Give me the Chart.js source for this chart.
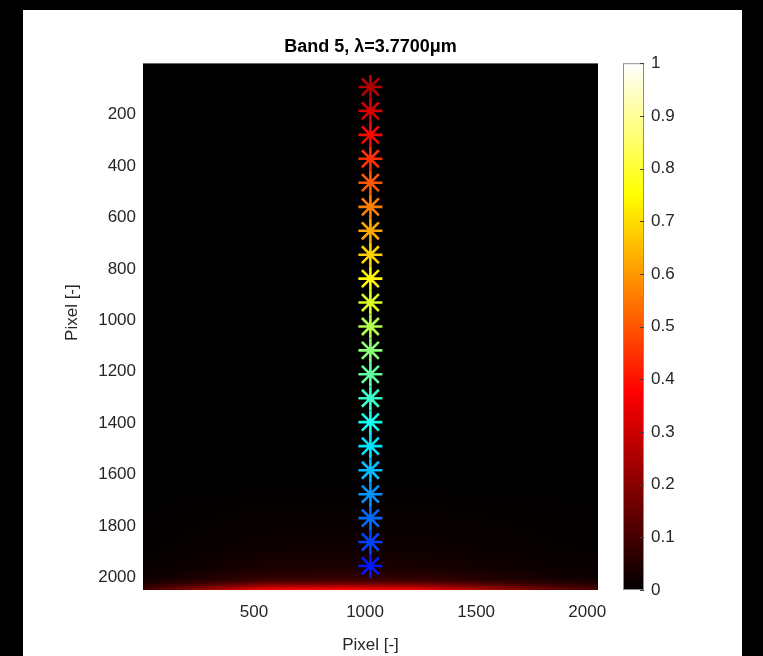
<!DOCTYPE html>
<html><head><meta charset="utf-8">
<script src="https://cdn.jsdelivr.net/npm/chart.js@4.4.1/dist/chart.umd.min.js"></script>
<style>
html,body{margin:0;padding:0;background:#000;overflow:hidden;width:763px;height:656px}
#c{position:absolute;left:0;top:0;width:763px;height:656px}
</style></head>
<body>
<canvas id="c" width="763" height="656"></canvas>
<script>
// ---- data ----
const markerX = [1024,1024,1024,1024,1024,1024,1024,1024,1024,1024,1024,1024,1024,1024,1024,1024,1024,1024,1024,1024,1024];
const markerY = [93,186,279,372,465,559,652,745,838,931,1024,1117,1210,1303,1396,1489,1583,1676,1769,1862,1955];
const xTickValues = [500,1000,1500,2000];
const yTickValues = [200,400,600,800,1000,1200,1400,1600,1800,2000];
const colorbarTicks = [0,0.1,0.2,0.3,0.4,0.5,0.6,0.7,0.8,0.9,1];
// background image intensity near the bottom edge (rows) and its horizontal profile
const glowRowY = [1600,1880,1960,2000,2017,2030,2040,2048.5];
const glowRowLevel = [0,0.02,0.04,0.07,0.12,0.22,0.32,0.4];
const glowColX = [0.5,250,550,900,1250,1550,1850,2048.5];
const glowColGain = [0.25,0.55,0.95,1,0.9,0.65,0.4,0.3];

const FONT = "'Liberation Sans', Arial, Helvetica, sans-serif";
const TXT = '#262626';

function clamp01(v){return Math.max(0,Math.min(1,v));}
function jet(t){
  const c=v=>Math.round(255*clamp01(v));
  return 'rgb('+c(1.5-Math.abs(4*t-3))+','+c(1.5-Math.abs(4*t-2))+','+c(1.5-Math.abs(4*t-1))+')';
}
function hot(v){
  const r=clamp01(v/0.375), g=clamp01((v-0.375)/0.375), b=clamp01((v-0.75)/0.25);
  return 'rgb('+Math.round(r*255)+','+Math.round(g*255)+','+Math.round(b*255)+')';
}
const markerColors = markerY.map((_,i)=>jet(0.95 - i*(0.8/(markerY.length-1))));

const framePlugin = {
  id:'frame',
  afterLayout(chart){
    const t = chart.titleBlock, ca = chart.chartArea;
    if (t && ca){ t.left = ca.left; t.right = ca.right; t.width = ca.right-ca.left; }
    const ys = chart.scales.y;
    if (ys && !ys._titleShifted){
      const orig = ys.drawTitle.bind(ys);
      ys.drawTitle = function(){ const c=this.ctx; c.save(); c.translate(0,-14); orig(); c.restore(); };
      ys._titleShifted = true;
    }
  },
  beforeDraw(chart){
    const ctx = chart.ctx, ca = chart.chartArea;
    ctx.save();
    ctx.fillStyle='#000'; ctx.fillRect(0,0,chart.width,chart.height);
    ctx.fillStyle='#fff'; ctx.fillRect(23,10,742-23,chart.height-10);
    ctx.beginPath(); ctx.rect(ca.left,ca.top,ca.right-ca.left,ca.bottom-ca.top); ctx.clip();
    ctx.fillStyle='#000'; ctx.fillRect(ca.left,ca.top,ca.right-ca.left,ca.bottom-ca.top);
    const xs=chart.scales.x, ys=chart.scales.y;
    const yTop=ys.getPixelForValue(glowRowY[0]), yBot=ys.getPixelForValue(glowRowY[glowRowY.length-1]);
    const g=ctx.createLinearGradient(0,yTop,0,yBot);
    glowRowY.forEach((v,i)=>g.addColorStop(clamp01((ys.getPixelForValue(v)-yTop)/(yBot-yTop)),hot(glowRowLevel[i])));
    ctx.fillStyle=g; ctx.fillRect(ca.left,yTop,ca.right-ca.left,yBot-yTop+1);
    const w=ca.right-ca.left;
    const h=ctx.createLinearGradient(ca.left,0,ca.right,0);
    glowColX.forEach((v,i)=>h.addColorStop(clamp01((xs.getPixelForValue(v)-ca.left)/w),'rgba(0,0,0,'+(1-glowColGain[i])+')'));
    ctx.fillStyle=h; ctx.fillRect(ca.left,yTop,w,yBot-yTop+1);
    ctx.restore();
  },
  afterDraw(chart){
    const ctx=chart.ctx, cb=chart.scales.cb, ca=chart.chartArea;
    const x0=ca.right+25, bw=21;
    const yT=cb.getPixelForValue(1), yB=cb.getPixelForValue(0);
    ctx.save();
    const g=ctx.createLinearGradient(0,yB,0,yT);
    [0,0.375,0.75,1].forEach(v=>g.addColorStop(v,hot(v)));
    ctx.fillStyle=g; ctx.fillRect(x0,yT,bw,yB-yT);
    ctx.strokeStyle='#8c8c8c'; ctx.lineWidth=1;
    ctx.strokeRect(x0+0.5,yT+0.5,bw-1,yB-yT-1);
    ctx.strokeStyle='#404040';
    colorbarTicks.forEach(v=>{
      const y=Math.round(cb.getPixelForValue(v))+0.5;
      ctx.beginPath(); ctx.moveTo(x0+bw-4,y); ctx.lineTo(x0+bw,y); ctx.stroke();
    });
    ctx.restore();
  }
};

new Chart(document.getElementById('c'),{
  type:'scatter',
  data:{datasets:[{
    data: markerX.map((x,i)=>({x:x,y:markerY[i]})),
    showLine:false,
    pointStyle:'star',
    pointRadius:12,
    pointHoverRadius:12,
    pointBorderWidth:2.6,
    pointBorderColor:markerColors,
    pointBackgroundColor:markerColors
  }]},
  options:{
    responsive:false, animation:false, devicePixelRatio:1,
    layout:{padding:{left:23,top:10,right:21,bottom:0}},
    plugins:{
      legend:{display:false}, tooltip:{enabled:false},
      title:{display:true,text:'Band 5, λ=3.7700μm',color:'#000',
        font:{family:FONT,size:18,weight:'bold',lineHeight:1.2},padding:{top:22,bottom:5.4}}
    },
    scales:{
      x:{type:'linear',position:'bottom',min:0.5,max:2048.5,
        grid:{display:false,drawTicks:false},border:{display:false},
        afterBuildTicks:s=>{s.ticks=xTickValues.map(v=>({value:v}));},
        afterFit:s=>{s.height=66;},
        ticks:{color:TXT,font:{family:FONT,size:17},padding:12,maxRotation:0,autoSkip:false,callback:v=>String(v)},
        title:{display:true,text:'Pixel [-]',color:TXT,font:{family:FONT,size:17,lineHeight:1.2},padding:{top:0,bottom:0}}
      },
      y:{type:'linear',position:'left',reverse:true,min:0.5,max:2048.5,
        grid:{display:false,drawTicks:false},border:{display:false},
        afterBuildTicks:s=>{s.ticks=yTickValues.map(v=>({value:v}));},
        afterFit:s=>{s.width=120;},
        ticks:{color:TXT,font:{family:FONT,size:17},padding:7,autoSkip:false,callback:v=>String(v)},
        title:{display:true,text:'Pixel [-]',color:TXT,font:{family:FONT,size:17,lineHeight:1.2},padding:{top:39,bottom:0}}
      },
      cb:{type:'linear',position:'right',min:0,max:1,
        grid:{display:false,drawTicks:false},border:{display:false},
        afterBuildTicks:s=>{s.ticks=colorbarTicks.map(v=>({value:v}));},
        afterFit:s=>{s.width=144;},
        ticks:{color:TXT,font:{family:FONT,size:17},padding:53,autoSkip:false,
          callback:v=>(v===0||v===1)?String(v):v.toFixed(1)}
      }
    }
  },
  plugins:[framePlugin]
});
</script>
</body></html>
